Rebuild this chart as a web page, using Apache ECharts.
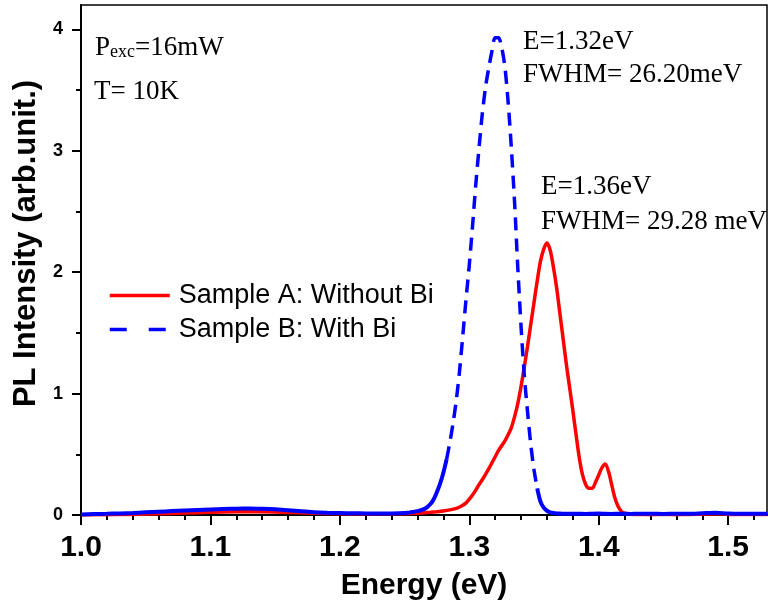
<!DOCTYPE html>
<html>
<head>
<meta charset="utf-8">
<script src="https://cdn.jsdelivr.net/npm/echarts@6/dist/echarts.min.js"></script>
<style>
  html, body { margin: 0; padding: 0; background: #fff; }
  #chart { width: 768px; height: 610px; }
</style>
</head>
<body>
<div id="chart"></div>
<script>
// Tick positions
const energyTicks = [1.0, 1.1, 1.2, 1.3, 1.4, 1.5];
const energyMinorTicks = [1.02, 1.04, 1.06, 1.08, 1.12, 1.14, 1.16, 1.18, 1.22, 1.24, 1.26, 1.28,
  1.32, 1.34, 1.36, 1.38, 1.42, 1.44, 1.46, 1.48, 1.52];
const intensityTicks = [0, 1, 2, 3, 4];
const intensityMinorTicks = [0.5, 1.5, 2.5, 3.5];

// PL spectra at 10 K: [energy (eV), intensity (arb. unit)]
const sampleA = [
  [1.00, 0.000], [1.02, 0.002], [1.04, 0.005], [1.06, 0.010], [1.08, 0.016], [1.10, 0.022],
  [1.12, 0.026], [1.14, 0.026], [1.16, 0.021], [1.18, 0.015], [1.20, 0.011], [1.22, 0.009],
  [1.24, 0.010], [1.2500, 0.011], [1.2550, 0.013], [1.2600, 0.015], [1.2650, 0.018],
  [1.2700, 0.022], [1.2750, 0.027], [1.2800, 0.033], [1.2850, 0.042], [1.2900, 0.055],
  [1.2925, 0.066], [1.2950, 0.080], [1.2975, 0.100], [1.3000, 0.130], [1.3025, 0.165],
  [1.3050, 0.205], [1.3075, 0.250], [1.3100, 0.290], [1.3125, 0.335], [1.3150, 0.380],
  [1.3175, 0.430], [1.3200, 0.480], [1.3225, 0.530], [1.3250, 0.570], [1.3275, 0.610],
  [1.3300, 0.660], [1.3325, 0.720], [1.3350, 0.810], [1.3375, 0.920], [1.3400, 1.060],
  [1.3425, 1.220], [1.3450, 1.390], [1.3475, 1.570], [1.3500, 1.750], [1.3525, 1.930],
  [1.3550, 2.090], [1.3575, 2.190], [1.3600, 2.240], [1.3625, 2.180], [1.3650, 2.040],
  [1.3675, 1.870], [1.3700, 1.660], [1.3725, 1.450], [1.3750, 1.240], [1.3775, 1.050],
  [1.3800, 0.860], [1.3825, 0.660], [1.3850, 0.470], [1.3875, 0.330], [1.3900, 0.250],
  [1.3925, 0.220], [1.3950, 0.220], [1.3975, 0.270], [1.4000, 0.330], [1.4025, 0.390],
  [1.4050, 0.420], [1.4075, 0.360], [1.4100, 0.250], [1.4125, 0.140], [1.4150, 0.070],
  [1.4175, 0.030], [1.4200, 0.015], [1.4250, 0.006], [1.4300, 0.004], [1.44, 0.003],
  [1.45, 0.004], [1.46, 0.003], [1.47, 0.004], [1.48, 0.007], [1.49, 0.010], [1.50, 0.005],
  [1.51, 0.004], [1.52, 0.004], [1.53, 0.004]
];

const sampleB = [
  [1.00, 0.005], [1.01, 0.008], [1.02, 0.010], [1.03, 0.013], [1.04, 0.017], [1.05, 0.022],
  [1.06, 0.027], [1.07, 0.032], [1.08, 0.037], [1.09, 0.041], [1.10, 0.045], [1.11, 0.049],
  [1.12, 0.052], [1.13, 0.053], [1.14, 0.051], [1.15, 0.047], [1.16, 0.040], [1.17, 0.030],
  [1.18, 0.022], [1.19, 0.018], [1.20, 0.016], [1.21, 0.014], [1.22, 0.013], [1.23, 0.012],
  [1.24, 0.013], [1.2500, 0.016], [1.2525, 0.019], [1.2550, 0.023], [1.2575, 0.027],
  [1.2600, 0.032], [1.2625, 0.039], [1.2650, 0.048], [1.2675, 0.065], [1.2700, 0.090],
  [1.2725, 0.130], [1.2750, 0.190], [1.2775, 0.260], [1.2800, 0.350], [1.2825, 0.460],
  [1.2850, 0.600], [1.2875, 0.760], [1.2900, 0.950], [1.2925, 1.190], [1.2950, 1.480],
  [1.2975, 1.780], [1.3000, 2.060], [1.3025, 2.380], [1.3050, 2.720], [1.3075, 3.020],
  [1.3100, 3.300], [1.3125, 3.520], [1.3150, 3.680], [1.3175, 3.820], [1.3200, 3.930],
  [1.3225, 3.930], [1.3250, 3.850], [1.3275, 3.690], [1.3300, 3.400], [1.3325, 3.020],
  [1.3350, 2.570], [1.3375, 2.030], [1.3400, 1.550], [1.3425, 1.150], [1.3450, 0.850],
  [1.3475, 0.580], [1.3500, 0.370], [1.3525, 0.220], [1.3550, 0.110], [1.3575, 0.060],
  [1.3600, 0.035], [1.3625, 0.022], [1.3650, 0.016], [1.3675, 0.013], [1.3700, 0.012],
  [1.3750, 0.010], [1.3800, 0.011], [1.3850, 0.010], [1.3900, 0.009], [1.3950, 0.011],
  [1.4000, 0.012], [1.4050, 0.010], [1.4100, 0.009], [1.4150, 0.011], [1.4200, 0.010],
  [1.4250, 0.009], [1.4300, 0.010], [1.44, 0.010], [1.45, 0.009], [1.46, 0.011],
  [1.47, 0.010], [1.48, 0.014], [1.49, 0.018], [1.50, 0.012], [1.51, 0.010], [1.52, 0.011],
  [1.53, 0.010]
];

const seriesNames = ['Sample A: Without Bi', 'Sample B: With Bi'];
const conditionText = ['=16mW', 'T= 10K'];
const peakBText = ['E=1.32eV', 'FWHM= 26.20meV'];
const peakAText = ['E=1.36eV', 'FWHM= 29.28 meV'];

// The dense baseline of sample B reads as a solid band; only the steep peak is dashed
const dashFrom = 1.2825, dashTo = 1.3525;
const bLow = sampleB.filter(p => p[0] <= dashFrom);
const bPeak = sampleB.filter(p => p[0] >= dashFrom && p[0] <= dashTo);
const bHigh = sampleB.filter(p => p[0] >= dashTo);

const SANS = 'Liberation Sans, Arial, sans-serif';
const SERIF = 'Liberation Serif, Times New Roman, serif';
const RED = '#ff0000';
const BLUE = '#0000ff';

const chart = echarts.init(document.getElementById('chart'), null, { renderer: 'canvas' });

const tickStyle = { color: '#000', width: 2 };
const noteFont = '27px ' + SERIF;

const option = {
  animation: false,
  backgroundColor: '#fff',
  grid: {
    left: 81, right: 1, top: 5, bottom: 95,
    show: true, borderColor: '#000', borderWidth: 1.5, backgroundColor: 'transparent'
  },
  xAxis: [
    {
      type: 'value', min: 1.0, max: 1.53, interval: 0.1, position: 'bottom',
      axisLine: { onZero: false, lineStyle: { color: '#000', width: 2 } },
      axisTick: { customValues: energyTicks, length: 10, lineStyle: tickStyle },
      axisLabel: {
        customValues: energyTicks, formatter: v => v.toFixed(1), margin: 18,
        fontFamily: SANS, fontSize: 30, fontWeight: 'bold', color: '#000'
      },
      splitLine: { show: false },
      name: 'Energy (eV)', nameLocation: 'middle', nameGap: 56,
      nameTextStyle: { fontFamily: SANS, fontSize: 30, fontWeight: 'bold', color: '#000' }
    },
    {
      type: 'value', min: 1.0, max: 1.53, position: 'bottom',
      axisLine: { show: false },
      axisTick: { customValues: energyMinorTicks, length: 5, lineStyle: tickStyle },
      axisLabel: { show: false },
      splitLine: { show: false }
    }
  ],
  yAxis: [
    {
      type: 'value', min: 0, max: 4.2, interval: 1, position: 'left',
      axisLine: { show: true, onZero: false, lineStyle: { color: '#000', width: 2 } },
      axisTick: { show: true, customValues: intensityTicks, length: 9, lineStyle: tickStyle },
      axisLabel: {
        customValues: intensityTicks, margin: 18,
        fontFamily: SANS, fontSize: 18, fontWeight: 'bold', color: '#000'
      },
      splitLine: { show: false },
      name: 'PL Intensity (arb.unit.)', nameLocation: 'middle', nameGap: 38,
      nameTextStyle: {
        fontFamily: SANS, fontSize: 31, fontWeight: 'bold', color: '#000',
        padding: [0, 0, 0, 33]
      }
    },
    {
      type: 'value', min: 0, max: 4.2, position: 'left',
      axisLine: { show: false },
      axisTick: { show: true, customValues: intensityMinorTicks, length: 5, lineStyle: tickStyle },
      axisLabel: { show: false },
      splitLine: { show: false }
    }
  ],
  legend: {
    orient: 'vertical', left: 108, top: 282, padding: 0,
    itemWidth: 60, itemHeight: 14, itemGap: 7,
    itemStyle: { opacity: 0 },
    lineStyle: { width: 3.5 },
    textStyle: { fontFamily: SANS, fontSize: 27, color: '#000', padding: [0, 0, 0, 4] },
    data: [
      { name: seriesNames[0] },
      { name: seriesNames[1], lineStyle: { width: 3.5, type: [17, 22] } }
    ]
  },
  series: [
    {
      name: seriesNames[0], type: 'line', data: sampleA, symbol: 'none', smooth: 0.3,
      lineStyle: { color: RED, width: 3.5 }, itemStyle: { color: RED }
    },
    {
      name: 'Sample B baseline low', type: 'line', data: bLow, symbol: 'none', smooth: 0.3,
      lineStyle: { color: BLUE, width: 4 }, itemStyle: { color: BLUE }
    },
    {
      name: 'Sample B baseline high', type: 'line', data: bHigh, symbol: 'none', smooth: 0.3,
      lineStyle: { color: BLUE, width: 4 }, itemStyle: { color: BLUE }
    },
    {
      name: seriesNames[1], type: 'line', data: bPeak, symbol: 'none', smooth: 0.3,
      lineStyle: { color: BLUE, width: 3.5, type: [13, 8] }, itemStyle: { color: BLUE }
    }
  ],
  graphic: [
    {
      type: 'text', x: 95, y: 48,
      style: {
        text: '{m|P}{s|exc}{m|' + conditionText[0] + '}',
        verticalAlign: 'middle',
        rich: {
          m: { fontFamily: SERIF, fontSize: 27, fill: '#000' },
          s: { fontFamily: SERIF, fontSize: 18, fill: '#000', padding: [9, 0, 0, 0] }
        }
      }
    },
    {
      type: 'text', x: 94, y: 92,
      style: { text: conditionText[1], font: noteFont, fill: '#000', verticalAlign: 'middle' }
    },
    {
      type: 'text', x: 523, y: 42,
      style: { text: peakBText[0], font: noteFont, fill: '#000', verticalAlign: 'middle' }
    },
    {
      type: 'text', x: 523, y: 75,
      style: { text: peakBText[1], font: noteFont, fill: '#000', verticalAlign: 'middle' }
    },
    {
      type: 'text', x: 541, y: 187,
      style: { text: peakAText[0], font: noteFont, fill: '#000', verticalAlign: 'middle' }
    },
    {
      type: 'text', x: 541, y: 222,
      style: { text: peakAText[1], font: noteFont, fill: '#000', verticalAlign: 'middle' }
    }
  ]
};

chart.setOption(option);
</script>
</body>
</html>
